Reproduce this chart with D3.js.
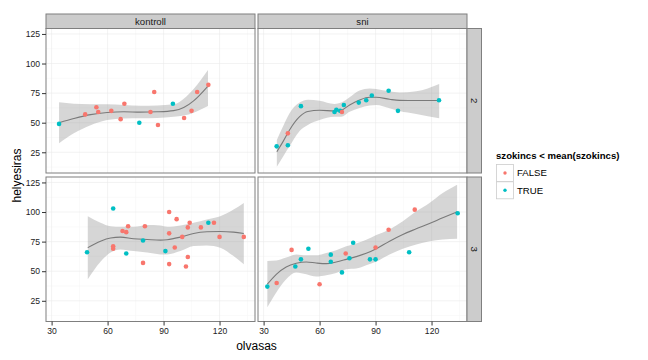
<!DOCTYPE html>
<html><head><meta charset="utf-8">
<script src="https://cdn.jsdelivr.net/npm/d3@7"></script>
<style>body{margin:0;background:#fff}svg{display:block}text{font-family:"Liberation Sans",Arial,Helvetica,sans-serif}</style>
</head><body>
<svg id="c" width="648" height="360"></svg>
<script>
// ---- facet labels ----
const colFacets = ["kontroll", "sni"];
const rowFacets = ["2", "3"];
const xTicks = [30, 60, 90, 120];
const yTicks = [25, 50, 75, 100, 125];
const legendTitle = "szokincs < mean(szokincs)";
const legendLevels = ["FALSE", "TRUE"];
const colors = ["#F8766D", "#00BFC4"];

// ---- kontroll / 2 ----
const k2_x = [34,48,54,55,62,67,69,77,83,85,87,95,101,105,108,114];
const k2_y = [49,57,63,59,60,53,66,50,59,76,48,66,54,60,76,82];
const k2_g = ["TRUE","FALSE","FALSE","FALSE","FALSE","FALSE","FALSE","TRUE","FALSE","FALSE","FALSE","TRUE","FALSE","FALSE","FALSE","FALSE"];
const k2_fitX = [34,41.9,50.9,59.8,68.7,77.6,86.5,95.4,100.8,106.1,113.8];
const k2_fit  = [50,53.5,56.8,58.6,59.3,58.9,59.2,60.2,62.8,68.5,81];
const k2_hi   = [67.2,66,65.6,65.6,65,64.3,64.5,65.5,70.3,78.5,94.6];
const k2_lo   = [32.6,41,47.8,52.2,53.6,53.7,54,55,56,58.5,64.1];

// ---- sni / 2 ----
const s2_x = [37,43,43,50,68,69,71,72,73,81,85,88,97,102,124];
const s2_y = [30,41,31,64,59,61,60,59,65,67,69,73,77,60,69];
const s2_g = ["TRUE","FALSE","TRUE","TRUE","TRUE","TRUE","TRUE","FALSE","TRUE","TRUE","TRUE","TRUE","TRUE","TRUE","TRUE"];
const s2_fitX = [37.1,40.4,43.9,49.3,53.7,60,68,71.6,76.1,81.4,86.8,90.3,97.5,102.8,111.8,124.1];
const s2_fit  = [25.5,34,43.9,55.1,59.5,60.5,59.9,60.5,65,69.2,71.5,71.5,69.8,68.9,68.7,68.7];
const s2_hi   = [35.4,46.7,58,67,69.5,68.5,65.8,67,71.5,77.2,79,78.5,76.5,75.5,76.5,82.7];
const s2_lo   = [12.8,21.3,30,43,48.1,52.3,55.1,55.1,59.3,62.5,64.5,65,62.2,59.8,57.4,53.7];

// ---- kontroll / 3 ----
const k3_x = [49,63,63,63,68,70,71,70,79,79,80,91,93,93,93,97,96,100,102,103,103,104,110,114,117,120,133];
const k3_y = [66,103,71,69,84,83,88,65,76,57,88,67,100,82,56,94,70,79,54,62,87,91,87,91,91,79,79];
const k3_g = ["TRUE","TRUE","FALSE","FALSE","FALSE","FALSE","FALSE","TRUE","TRUE","FALSE","FALSE","TRUE","FALSE","FALSE","FALSE","FALSE","FALSE","FALSE","FALSE","FALSE","FALSE","FALSE","FALSE","TRUE","FALSE","FALSE","FALSE"];
const k3_fitX = [49.4,56.2,61.6,66.9,74,81.2,88.3,91.9,99,106.1,113.2,120.4,127.5,133];
const k3_fit  = [69.9,75.4,78.1,78.8,77.4,76.8,76.3,76.6,78.8,81.9,83.3,83.6,83,81.9];
const k3_hi   = [96.4,91,88,87.5,87.5,89,88.6,87.5,88.6,90.9,93.7,96.4,102.1,107.7];
const k3_lo   = [43.2,58,65.8,68.4,67,65.7,64.2,64.2,67,71.2,71.8,69.9,62.8,55.8];

// ---- sni / 3 ----
const s3_x = [32,37,45,47,50,54,60,66,66,72,74,76,78,87,90,90,97,108,111,134];
const s3_y = [37,40,68,54,60,69,39,64,58,49,65,61,74,60,70,60,85,66,102,99];
const s3_g = ["TRUE","FALSE","FALSE","TRUE","TRUE","TRUE","FALSE","TRUE","TRUE","TRUE","FALSE","TRUE","TRUE","TRUE","FALSE","TRUE","FALSE","TRUE","FALSE","TRUE"];
const s3_fitX = [32,36.8,42.1,47.5,52.9,58.2,63.6,68.9,74.3,79.6,85,90.4,97.5,104.6,111.8,118.9,126,133.7];
const s3_fit  = [39,47.4,53.6,56.7,57.8,56.9,56.4,57.8,60,62.3,65.1,69,75.4,81.1,85.8,90.3,95.1,100.1];
const s3_hi   = [58.6,59,61.5,64.2,63.4,63.4,65.3,67.8,71,73.5,76.5,80.5,85.3,92.2,100.6,107.7,116.1,123.1];
const s3_lo   = [19.5,32.1,43.2,48.9,47.4,45.5,46.6,48.5,51.6,52.2,55,58.2,64.2,69,72.6,75.4,76.8,77.4];

const panels = [
  {col:0,row:0,x:k2_x,y:k2_y,g:k2_g,fx:k2_fitX,fit:k2_fit,hi:k2_hi,lo:k2_lo},
  {col:1,row:0,x:s2_x,y:s2_y,g:s2_g,fx:s2_fitX,fit:s2_fit,hi:s2_hi,lo:s2_lo},
  {col:0,row:1,x:k3_x,y:k3_y,g:k3_g,fx:k3_fitX,fit:k3_fit,hi:k3_hi,lo:k3_lo},
  {col:1,row:1,x:s3_x,y:s3_y,g:s3_g,fx:s3_fitX,fit:s3_fit,hi:s3_hi,lo:s3_lo}
];

// ---- layout ----
const colX = [46, 258], panelW = 209;
const rowY = [28.5, 177], panelH = 144.5;
const stripTop = 14, stripRightW = 14.5;
const xDomain = [27, 139], yDomain = [7.5, 129.6];
const xMinor = [45, 75, 105, 135], yMinor = [12.5, 37.5, 62.5, 87.5, 112.5];

const svg = d3.select("#c");
const color = d3.scaleOrdinal().domain(legendLevels).range(colors);

panels.forEach(p => {
  const x0 = colX[p.col], y0 = rowY[p.row];
  const xs = d3.scaleLinear().domain(xDomain).range([x0, x0 + panelW]);
  const ys = d3.scaleLinear().domain(yDomain).range([y0 + panelH, y0]);
  const g = svg.append("g");
  g.append("rect").attr("x", x0).attr("y", y0).attr("width", panelW).attr("height", panelH).attr("fill", "#fff");
  xMinor.forEach(v => g.append("line").attr("x1", xs(v)).attr("x2", xs(v)).attr("y1", y0).attr("y2", y0+panelH).attr("stroke", "#f7f7f7").attr("stroke-width", 0.6));
  yMinor.forEach(v => g.append("line").attr("y1", ys(v)).attr("y2", ys(v)).attr("x1", x0).attr("x2", x0+panelW).attr("stroke", "#f7f7f7").attr("stroke-width", 0.6));
  xTicks.forEach(v => g.append("line").attr("x1", xs(v)).attr("x2", xs(v)).attr("y1", y0).attr("y2", y0+panelH).attr("stroke", "#ebebeb").attr("stroke-width", 0.6));
  yTicks.forEach(v => g.append("line").attr("y1", ys(v)).attr("y2", ys(v)).attr("x1", x0).attr("x2", x0+panelW).attr("stroke", "#ebebeb").attr("stroke-width", 0.6));
  const idx = d3.range(p.fx.length);
  g.append("path").datum(idx)
    .attr("d", d3.area().x(i => xs(p.fx[i])).y0(i => ys(p.lo[i])).y1(i => ys(p.hi[i])).curve(d3.curveMonotoneX))
    .attr("fill", "#999").attr("fill-opacity", 0.4);
  g.append("path").datum(idx)
    .attr("d", d3.line().x(i => xs(p.fx[i])).y(i => ys(p.fit[i])).curve(d3.curveMonotoneX))
    .attr("fill", "none").attr("stroke", "#7a7a7a").attr("stroke-width", 1.1);
  g.selectAll("circle.pt").data(d3.range(p.x.length)).join("circle")
    .attr("cx", i => xs(p.x[i])).attr("cy", i => ys(p.y[i])).attr("r", 2.3)
    .attr("fill", i => color(p.g[i]));
  g.append("rect").attr("x", x0).attr("y", y0).attr("width", panelW).attr("height", panelH)
    .attr("fill", "none").attr("stroke", "#7f7f7f").attr("stroke-width", 1);

  if (p.col === 0) {
    const ax = svg.append("g").attr("transform", `translate(${x0},0)`)
      .call(d3.axisLeft(ys).tickValues(yTicks).tickSize(4).tickPadding(2));
    ax.select(".domain").remove();
    ax.selectAll("line").attr("stroke", "#333");
    ax.selectAll("text").attr("fill", "#222").attr("font-size", "8.6px").attr("font-family", "Liberation Sans, Arial, sans-serif");
  }
  if (p.row === 1) {
    const ax = svg.append("g").attr("transform", `translate(0,${y0+panelH})`)
      .call(d3.axisBottom(xs).tickValues(xTicks).tickSize(4).tickPadding(2));
    ax.select(".domain").remove();
    ax.selectAll("line").attr("stroke", "#333");
    ax.selectAll("text").attr("fill", "#222").attr("font-size", "8.6px").attr("font-family", "Liberation Sans, Arial, sans-serif");
  }
  if (p.row === 0) {
    svg.append("rect").attr("x", x0).attr("y", stripTop).attr("width", panelW).attr("height", y0 - stripTop)
      .attr("fill", "#ccc").attr("stroke", "#7f7f7f").attr("stroke-width", 1);
    svg.append("text").attr("x", x0 + panelW/2).attr("y", stripTop + (y0-stripTop)/2 + 3.4)
      .attr("text-anchor", "middle").attr("font-size", "9.6px").attr("fill", "#1a1a1a").text(colFacets[p.col]);
  }
  if (p.col === 1) {
    const sx = x0 + panelW;
    svg.append("rect").attr("x", sx).attr("y", y0).attr("width", stripRightW).attr("height", panelH)
      .attr("fill", "#ccc").attr("stroke", "#7f7f7f").attr("stroke-width", 1);
    svg.append("text").attr("transform", `translate(${sx + stripRightW/2 - 3.4},${y0 + panelH/2}) rotate(90)`)
      .attr("text-anchor", "middle").attr("font-size", "9.6px").attr("fill", "#1a1a1a").text(rowFacets[p.row]);
  }
});

svg.append("text").attr("x", 256.5).attr("y", 349.5).attr("text-anchor", "middle").attr("font-size", "12px").attr("fill", "#000").text("olvasas");
svg.append("text").attr("transform", "translate(20.5,175.5) rotate(-90)").attr("text-anchor", "middle").attr("font-size", "12px").attr("fill", "#000").text("helyesiras");

const lg = svg.append("g");
lg.append("text").attr("x", 496).attr("y", 159.3).attr("font-size", "9.6px").attr("font-weight", "bold").attr("fill", "#000").text(legendTitle);
legendLevels.forEach((lv, i) => {
  const cy = 173 + i * 17.3;
  lg.append("rect").attr("x", 496.5).attr("y", cy - 8.5).attr("width", 17).attr("height", 17)
    .attr("fill", "#fff").attr("stroke", "#ccc").attr("stroke-width", 0.8);
  lg.append("circle").attr("cx", 505).attr("cy", cy).attr("r", 1.7).attr("fill", color(lv));
  lg.append("text").attr("x", 517).attr("y", cy + 3.4).attr("font-size", "9.6px").attr("fill", "#000").text(lv);
});
</script>
</body></html>
